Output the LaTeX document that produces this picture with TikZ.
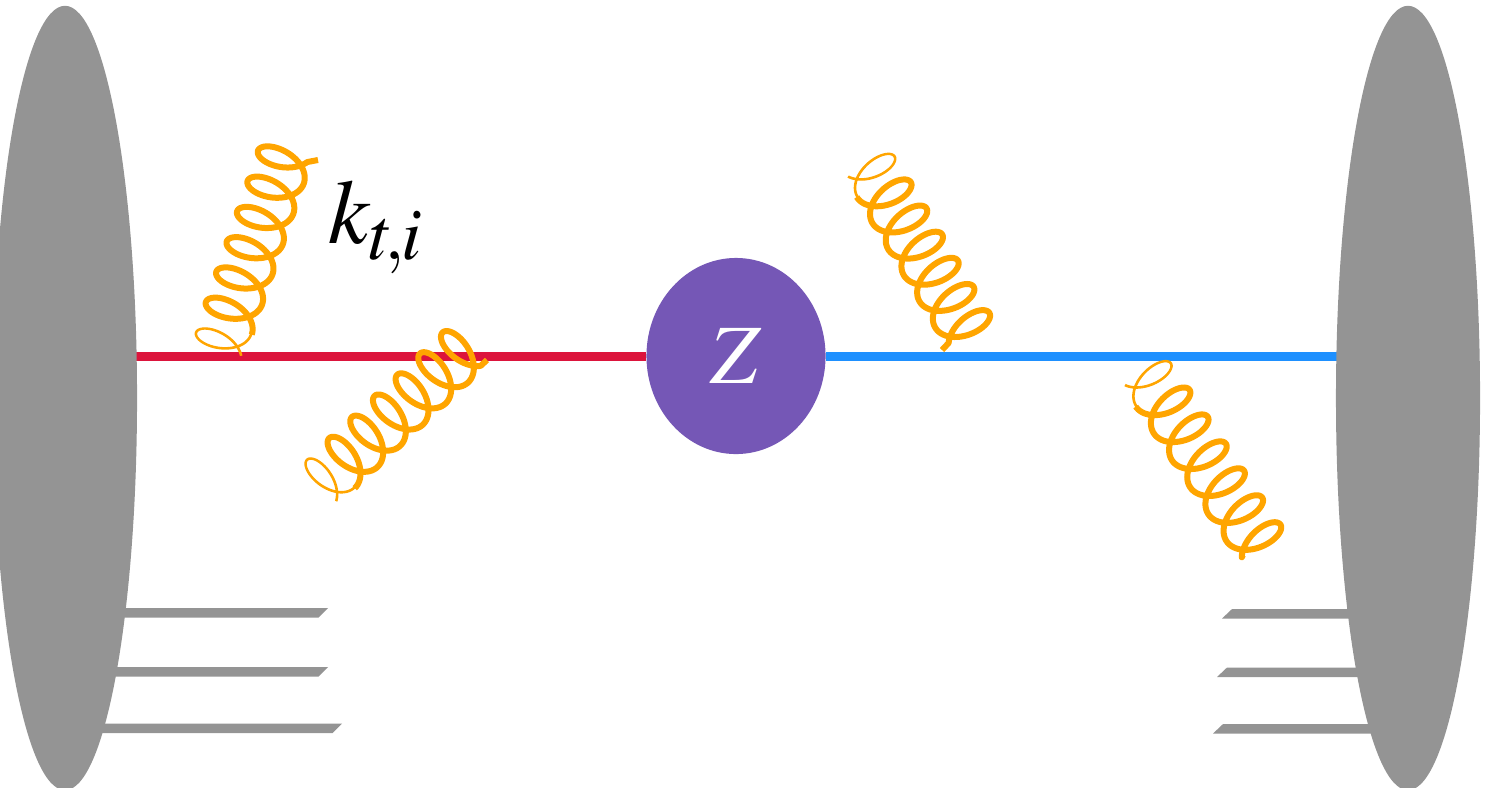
\documentclass[tikz,border=0pt]{standalone}
\usepackage{mathptmx}
\usetikzlibrary{shapes.geometric,backgrounds}
\DeclareMathSizes{26}{26}{21}{16}
\definecolor{protongray}{RGB}{148,148,148}
\definecolor{gluonorange}{RGB}{255,165,0}
\definecolor{quarkred}{RGB}{220,20,60}
\definecolor{quarkblue}{RGB}{30,144,255}
\definecolor{zpurple}{RGB}{117,87,182}
\tikzset{
    proton/.style={ellipse, fill=protongray, inner sep=0, minimum width=1.44cm, minimum height=7.84cm},
    zboson/.style={ellipse, fill=zpurple, text=white, inner sep=0, minimum width=1.79cm, minimum height=1.96cm, font=\fontsize{24}{24}\selectfont},
    quark/.style={line width=0.09cm},
    spectator/.style={fill=protongray},
    gluon/.style={draw=gluonorange, line width=0.06cm, line join=round},
    gluonthin/.style={draw=gluonorange, line width=0.012cm},
    biglabel/.style={font=\fontsize{26}{26}\selectfont, inner sep=0}
}
% Gluon: centro de la primera espira, angulo, paso, extremo
\newcommand{\gluoncoil}[5]{
    \begin{scope}[shift={(#1,#2)},rotate=#3]
        \foreach \d in {0,0.7,1.4}
            \draw[gluonthin] plot[domain=25:375,samples=70,variable=\t] ({#4*(\t/360-0.5)+(16-\d)*sin(\t)},{(27-\d)*cos(\t)});
        \draw[gluon] plot[domain=360:2490,samples=380,variable=\t] ({#4*(\t/360-0.5)+16*sin(\t)},{27*cos(\t)}) -- (#5);
    \end{scope}
}
\begin{document}
\begin{tikzpicture}[x=0.01cm,y=-0.01cm]
        \useasboundingbox (0,0) rectangle (1485,787);
        % Protones y bosón
        \node[proton] (protonl) at (65,398) {};
        \node[proton] (protonr) at (1408,398) {};
        \node[zboson] (zb) at (736,356) {$Z$};
        % Quarks y espectadores
        \begin{scope}[on background layer]
            \draw[quark, draw=quarkred] (zb.west) -- (zb.west -| protonl.center);
            \draw[quark, draw=quarkblue] (zb.east) -- (zb.east -| protonr.center);
            \foreach \y/\xa in {608/328,667/328,723.5/342}
                \fill[spectator] (60,\y) -- (\xa,\y) -- ++(-9.5,9.5) -- (60,\y+9.5) -- cycle;
            \foreach \y/\xa in {609/1232,667.5/1227,724/1223}
                \fill[spectator] (1410,\y) -- (\xa,\y) -- ++(-10,9.5) -- (1410,\y+9.5) -- cycle;
        \end{scope}
        % Gluones
        \coordinate (tipa) at (318,160);
        \coordinate (tipb) at (487,360);
        \coordinate (tipc) at (942,350);
        \coordinate (tipd) at (1243,555);
        \gluoncoil{221}{341}{71}{32}{tipa}
        \gluoncoil{325}{479}{43}{31}{tipb}
        \gluoncoil{872}{170}{-59}{30.5}{tipc}
        \gluoncoil{1149}{378}{-56}{32.5}{tipd}
        \node[biglabel] (kt) at (376,227) {$k_{t\mkern-2mu,\mkern-1mu i}$};
    \end{tikzpicture}
\end{document}
